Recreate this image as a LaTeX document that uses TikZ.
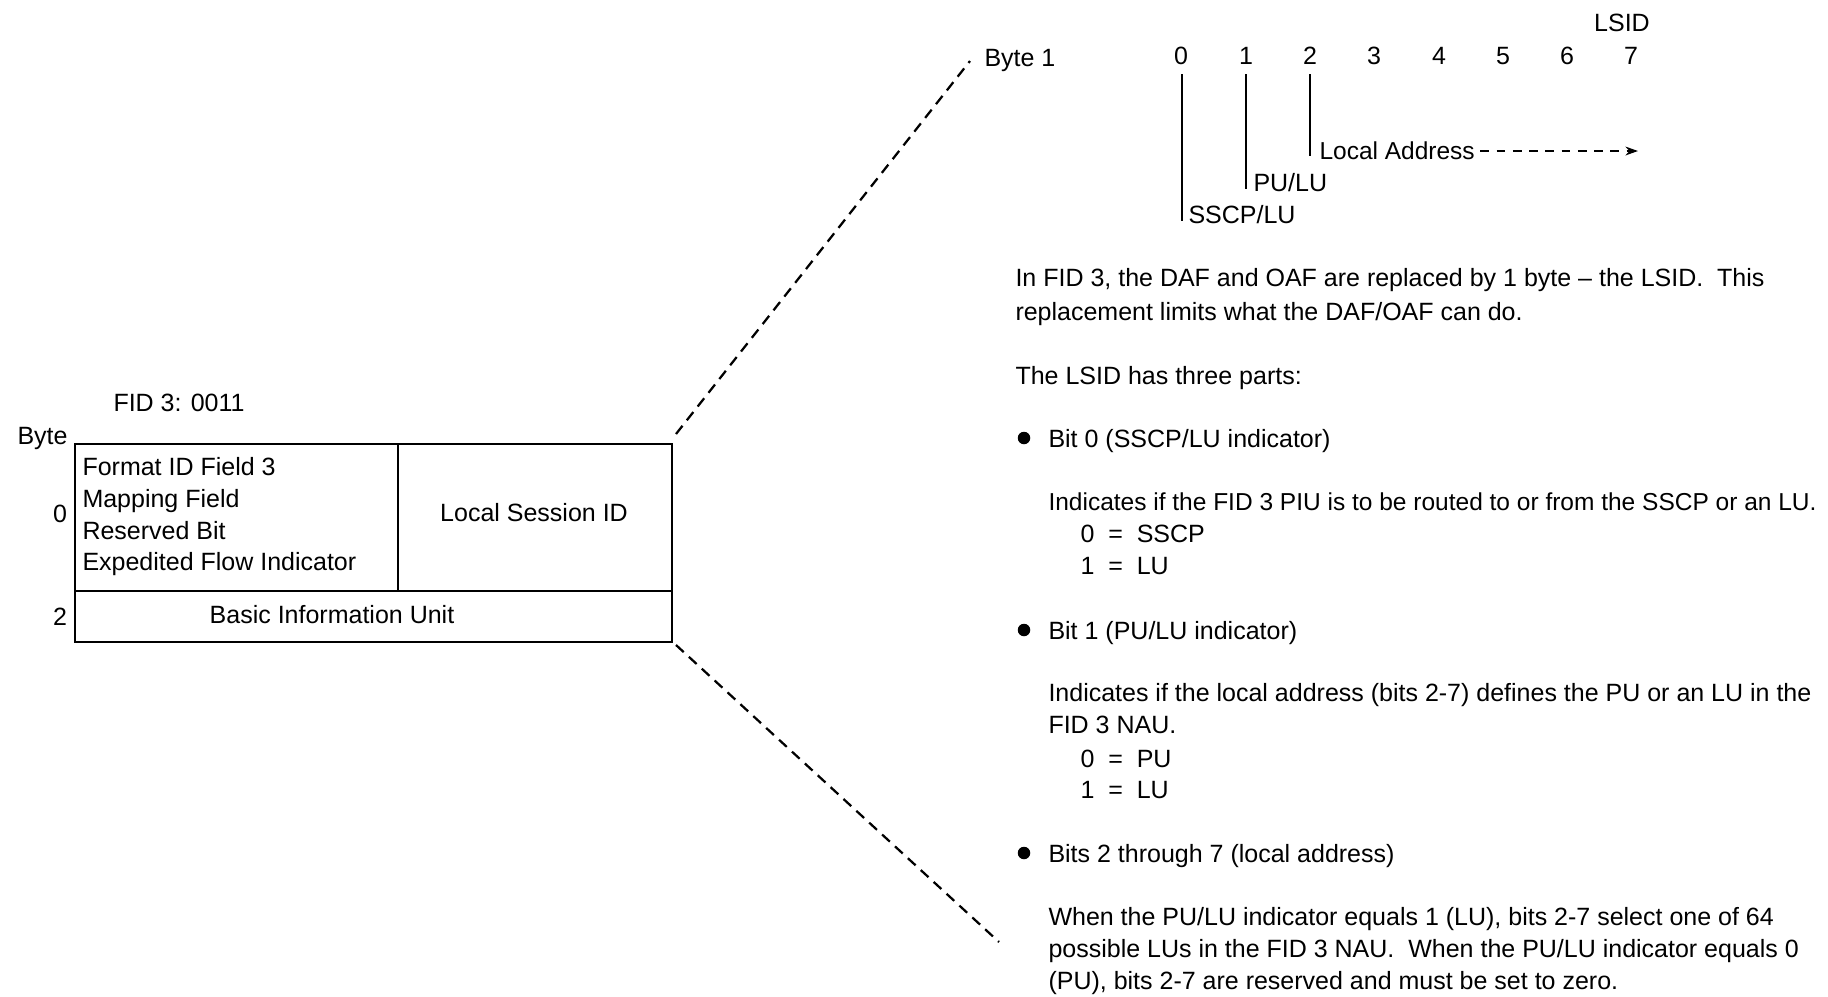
\documentclass[tikz,border=0pt]{standalone}
\usepackage{fontspec}
\setmainfont{Liberation Sans}
\usetikzlibrary{arrows.meta}
\begin{document}
\begin{tikzpicture}[x=0.4pt,y=-0.4pt,
  txt/.style={anchor=base west,inner sep=0pt,font=\fontsize{10}{12}\selectfont},
  ctxt/.style={anchor=base,inner sep=0pt,font=\fontsize{10}{12}\selectfont},
  boxline/.style={line width=1.1pt},
  zoomline/.style={line width=0.9pt,dash pattern=on 4.2pt off 2.8pt},
  bitline/.style={line width=0.9pt},
  bul/.style={circle,fill=black,inner sep=0pt,minimum size=5pt}]
\useasboundingbox (0,0) rectangle (1828,996);
% left frame
\node[txt] (fid) at (113,411) {FID 3: 0011};
\node[txt] (byte) at (17,444) {Byte};
\node[ctxt] (b0) at (60,522) {0};
\node[ctxt] (b2) at (60,625) {2};
\coordinate (tl) at (75,444);
\coordinate (br) at (672,642);
\draw[boxline] (tl) rectangle (br);
\draw[boxline] (75,591) -- (672,591);
\draw[boxline] (398,444) -- (398,591);
\node[txt] (f1) at (82,475) {Format ID Field 3};
\node[txt] (f2) at (82,507) {Mapping Field};
\node[txt] (f3) at (82,539) {Reserved Bit};
\node[txt] (f4) at (82,570) {Expedited Flow Indicator};
\node[ctxt] (lsi) at (534,521) {Local Session ID};
\node[ctxt] (biu) at (332,623) {Basic Information Unit};
% zoom lines
\coordinate (zu0) at (676,434);
\coordinate (zu1) at (970,61);
\coordinate (zl0) at (676,645);
\coordinate (zl1) at (999,942);
\draw[zoomline] (zu0) -- (zu1);
\draw[zoomline] (zl0) -- (zl1);
% byte 1
\node[txt] (byte1) at (984,66) {Byte 1};
\node[ctxt] (lsid) at (1622,31) {LSID};
\foreach \i/\x in {0/1181,1/1246,2/1310,3/1374,4/1439,5/1503,6/1567,7/1631}
  \node[ctxt] (d\i) at (\x,64) {\i};
\coordinate (e0) at (1182,221);
\coordinate (e1) at (1246,189);
\coordinate (e2) at (1310,156);
\draw[bitline] (1182,74) -- (e0);
\draw[bitline] (1246,74) -- (e1);
\draw[bitline] (1310,74) -- (e2);
\node[txt,font=\fontsize{9.8}{12}\selectfont] (la) at (1319,159) {Local Address};
\node[txt] (pl) at (1253,191) {PU/LU};
\node[txt] (sl) at (1188,223) {SSCP/LU};
\coordinate (aend) at (1638,151);
\draw[bitline,dash pattern=on 3.5pt off 3pt,-{Stealth[length=5pt,width=3.5pt]}] ([xshift=2pt]la.east |- aend) -- (aend);
% text
\node[txt] (p1) at (1015,286) {In FID 3, the DAF and OAF are replaced by 1 byte -- the LSID.\ \ This};
\node[txt] (p2) at (1015,320) {replacement limits what the DAF/OAF can do.};
\node[txt] (p3) at (1015,384) {The LSID has three parts:};
\node[bul] (u1) at (1024,438) {};
\node[txt] (t1) at (1048,447) {Bit 0 (SSCP/LU indicator)};
\node[txt,font=\fontsize{9.8}{12}\selectfont] (t1a) at (1048,510) {Indicates if the FID 3 PIU is to be routed to or from the SSCP or an LU.};
\node[txt] (t1b) at (1080,542) {0\ \ =\ \ SSCP};
\node[txt] (t1c) at (1080,574) {1\ \ =\ \ LU};
\node[bul] (u2) at (1024,630) {};
\node[txt] (t2) at (1048,639) {Bit 1 (PU/LU indicator)};
\node[txt] (t2a) at (1048,701) {Indicates if the local address (bits 2-7) defines the PU or an LU in the};
\node[txt] (t2b) at (1048,733) {FID 3 NAU.};
\node[txt] (t2c) at (1080,767) {0\ \ =\ \ PU};
\node[txt] (t2d) at (1080,798) {1\ \ =\ \ LU};
\node[bul] (u3) at (1024,853) {};
\node[txt] (t3) at (1048,862) {Bits 2 through 7 (local address)};
\node[txt] (t3a) at (1048,925) {When the PU/LU indicator equals 1 (LU), bits 2-7 select one of 64};
\node[txt] (t3b) at (1048,957) {possible LUs in the FID 3 NAU.\ \ When the PU/LU indicator equals 0};
\node[txt] (t3c) at (1048,989) {(PU), bits 2-7 are reserved and must be set to zero.};
\end{tikzpicture}
\end{document}
